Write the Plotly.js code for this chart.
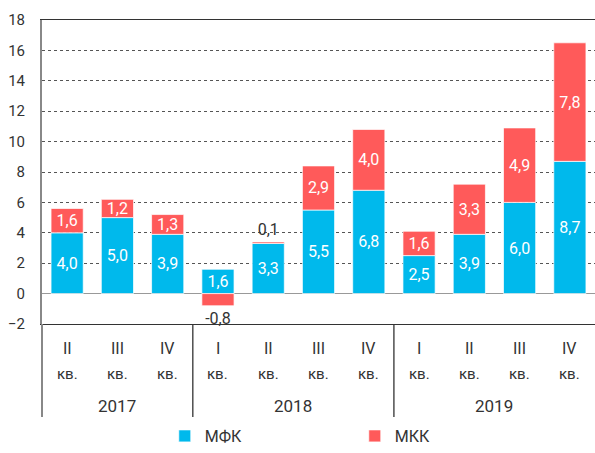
<!DOCTYPE html>
<html>
<head>
<meta charset="utf-8">
<script src="https://cdn.plot.ly/plotly-3.0.1.min.js"></script>
<style>html,body{margin:0;padding:0;background:#fff;}#chart{width:595px;height:453px;}</style>
</head>
<body>
<div id="chart"></div>
<script>
var quarters = ["II", "III", "IV", "I", "II", "III", "IV", "I", "II", "III", "IV"];
var quarterSuffix = "кв.";
var years = ["2017", "2018", "2019"];
var yearCenters = [1, 4.5, 8.5];
var yearBreaks = [2.5, 6.5];
var mfk = [4.0, 5.0, 3.9, 1.6, 3.3, 5.5, 6.8, 2.5, 3.9, 6.0, 8.7];
var mkk = [1.6, 1.2, 1.3, -0.8, 0.1, 2.9, 4.0, 1.6, 3.3, 4.9, 7.8];
var seriesNames = ["МФК", "МКК"];

var xs = quarters.map(function(_, i){ return i; });
var FONT = "Roboto, 'Open Sans', sans-serif";
var mkkPos = mkk.map(function(v){ return Math.abs(v) < 1 ? "outside" : "inside"; });

var traces = [
  {type: "bar", name: seriesNames[0], x: xs, y: mfk,
   marker: {color: "#00B9EC", line: {color: "rgba(255,255,255,0.7)", width: 1}},
   texttemplate: "%{y:.1f}", textposition: "inside", insidetextanchor: "middle",
   textfont: {color: "#ffffff", size: 16, family: FONT}, constraintext: "none",
   hoverinfo: "skip"},
  {type: "bar", name: seriesNames[1], x: xs, y: mkk,
   marker: {color: "#FF5A5A", line: {color: "rgba(255,255,255,0.7)", width: 1}},
   texttemplate: "%{y:.1f}", textposition: mkkPos, insidetextanchor: "middle",
   insidetextfont: {color: "#ffffff", size: 16, family: FONT},
   outsidetextfont: {color: "#333333", size: 16, family: FONT},
   constraintext: "none", cliponaxis: false,
   hoverinfo: "skip"}
];

var annotations = [];
quarters.forEach(function(q, i){
  annotations.push({x: i, xref: "x", y: -0.082, yref: "paper", text: q, showarrow: false,
    font: {size: 16, color: "#333", family: FONT}, yanchor: "middle"});
  annotations.push({x: i, xref: "x", y: -0.164, yref: "paper", text: quarterSuffix, showarrow: false,
    font: {size: 15, color: "#333", family: FONT}, yanchor: "middle"});
});
years.forEach(function(y, k){
  annotations.push({x: yearCenters[k], xref: "x", y: -0.27, yref: "paper", text: y, showarrow: false,
    font: {size: 17, color: "#333", family: FONT}, yanchor: "middle"});
});

var shapes = [
  {type: "line", xref: "paper", x0: 0, x1: 0, yref: "paper", y0: 0, y1: -0.306,
   line: {color: "#888", width: 2}}
];
yearBreaks.forEach(function(b){
  shapes.push({type: "line", xref: "x", x0: b, x1: b, yref: "paper", y0: 0, y1: -0.306,
    line: {color: "#333", width: 1.3}});
});

var layout = {
  width: 595, height: 453,
  margin: {l: 42, r: 0, t: 20, b: 129, pad: 0, autoexpand: false},
  paper_bgcolor: "#fff", plot_bgcolor: "#fff",
  barmode: "relative", bargap: 0.36,
  separators: ", ",
  font: {family: FONT, color: "#333"},
  showlegend: true,
  legend: {orientation: "h", x: 0.222, xanchor: "left", y: -0.012, yref: "container", yanchor: "bottom",
    font: {size: 16, color: "#333", family: FONT}, entrywidth: 145, itemwidth: 30,
    traceorder: "normal", borderwidth: 0},
  xaxis: {range: [-0.5, 10.5], showticklabels: false, ticks: "", showgrid: false, zeroline: false,
    showline: true, mirror: true, linecolor: "#333", linewidth: 1.3, fixedrange: true},
  yaxis: {range: [-2, 18], dtick: 2, tick0: 0, showgrid: true, gridcolor: "#555", griddash: "dot",
    gridwidth: 1, zeroline: true, zerolinecolor: "#999", zerolinewidth: 1.5,
    showline: true, linecolor: "#888", linewidth: 2, ticks: "", ticklabelstandoff: 12,
    tickfont: {size: 15, color: "#333", family: FONT}, fixedrange: true},
  annotations: annotations,
  shapes: shapes
};

Plotly.newPlot("chart", traces, layout, {displayModeBar: false, staticPlot: true});
</script>
</body>
</html>
